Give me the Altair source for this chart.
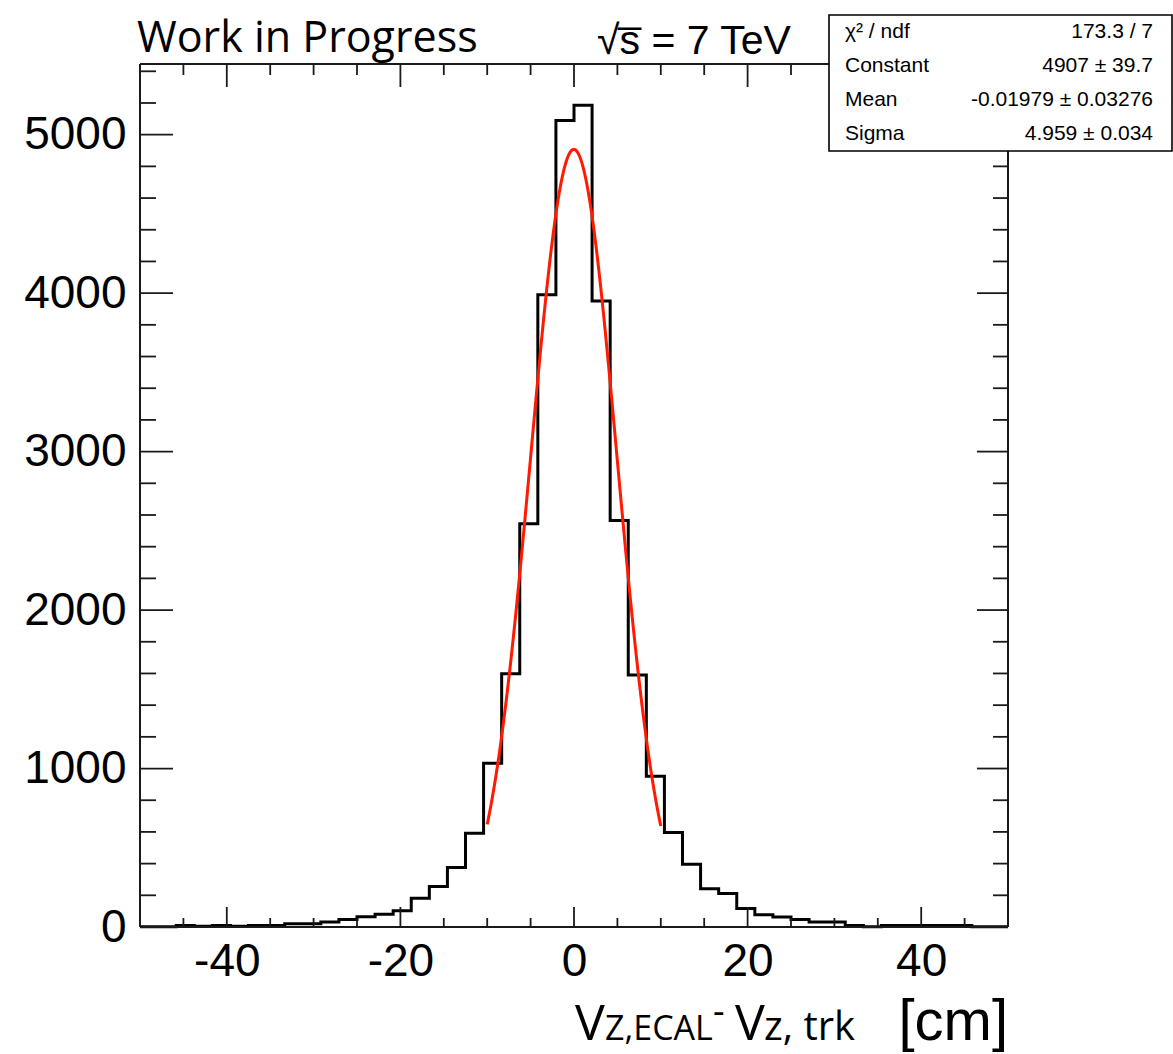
import altair as alt
import pandas as pd

# ---------------- data ----------------
X_MIN, X_MAX = -50.0, 50.0
Y_MAX = 5446
COUNTS = [2, 2, 10, 5, 10, 5, 10, 10, 20, 20, 32, 47, 65, 80, 103, 181, 255, 375,
          592, 1034, 1598, 2544, 3990, 5090, 5185, 3950, 2565, 1590, 952, 596, 396,
          242, 211, 116, 78, 63, 47, 32, 32, 9, 2, 9, 9, 9, 9, 9, 2, 2]
FIT_CONST, FIT_MEAN, FIT_SIGMA = 4907.0, -0.01979, 4.959
FIT_RANGE = [-10.0, 10.0]

X_LABELS = [-40, -20, 0, 20, 40]
X_MINOR = [-45, -35, -30, -25, -15, -10, -5, 5, 10, 15, 25, 30, 35, 45]
Y_LABELS = [0, 1000, 2000, 3000, 4000, 5000]
Y_MINOR = [200, 400, 600, 800, 1200, 1400, 1600, 1800, 2200, 2400, 2600, 2800,
           3200, 3400, 3600, 3800, 4200, 4400, 4600, 4800, 5200, 5400]

STATS_NAMES = ["χ² / ndf", "Constant", "Mean", "Sigma"]
STATS_VALUES = ["173.3 / 7", "4907 ± 39.7", "-0.01979 ± 0.03276", "4.959 ± 0.034"]

TITLE_LEFT = "Work in Progress"
TITLE_RIGHT = "√s\u0305 = 7 TeV"

# ---------------- layout ----------------
W, H = 868, 863
SANS = "Liberation Sans"
OPEN = "Open Sans"

xs = alt.Scale(domain=[X_MIN, X_MAX], nice=False, zero=False)
ys = alt.Scale(domain=[0, Y_MAX], nice=False, zero=True)

LABEL_EXPR = "datum.value < 0 ? '-' + abs(datum.value) : '' + datum.value"
X_AXIS = alt.Axis(values=X_LABELS, ticks=False, domain=False, grid=False, title=None,
                  labelFontSize=46, labelFont=SANS, labelColor="black",
                  labelPadding=12, labelFlush=False, labelExpr=LABEL_EXPR)
Y_AXIS = alt.Axis(values=Y_LABELS, ticks=False, domain=False, grid=False, title=None,
                  labelFontSize=46, labelFont=SANS, labelColor="black",
                  labelPadding=14, labelExpr=LABEL_EXPR)

n = len(COUNTS)
bw = (X_MAX - X_MIN) / n
hist_df = pd.DataFrame({
    "x": [X_MIN + i * bw for i in range(n + 1)],
    "y": COUNTS + [COUNTS[-1]],
})

hist = alt.Chart(hist_df).mark_line(
    interpolate="step-after", color="black", strokeWidth=3
).encode(
    x=alt.X("x:Q", scale=xs, axis=X_AXIS),
    y=alt.Y("y:Q", scale=ys, axis=Y_AXIS),
)

fit = alt.Chart(alt.sequence(FIT_RANGE[0], FIT_RANGE[1] + 0.001, 0.05, as_="x")).transform_calculate(
    y=f"{FIT_CONST}*exp(-0.5*pow((datum.x-({FIT_MEAN}))/{FIT_SIGMA},2))"
).mark_line(color="#ff1a00", strokeWidth=3).encode(
    x=alt.X("x:Q", scale=xs, axis=X_AXIS),
    y=alt.Y("y:Q", scale=ys, axis=Y_AXIS),
)

FRAME_C = "#1a1a1a"


def frame_rule(**enc):
    return alt.Chart(pd.DataFrame({"a": [0]})).mark_rule(color=FRAME_C, strokeWidth=2).encode(**enc)


frame = [
    frame_rule(x=alt.value(0), y=alt.value(0), y2=alt.value(H)),
    frame_rule(x=alt.value(W), y=alt.value(0), y2=alt.value(H)),
    frame_rule(y=alt.value(0), x=alt.value(0), x2=alt.value(W)),
    frame_rule(y=alt.value(H), x=alt.value(0), x2=alt.value(W)),
]

ylab_df = pd.DataFrame({"y": Y_LABELS})
ymin_df = pd.DataFrame({"y": Y_MINOR})
xlab_df = pd.DataFrame({"x": X_LABELS})
xmin_df = pd.DataFrame({"x": X_MINOR})


def yticks(df, x0, x1):
    return alt.Chart(df).mark_rule(color=FRAME_C, strokeWidth=1.8).encode(
        y=alt.Y("y:Q", scale=ys, axis=Y_AXIS), x=alt.value(x0), x2=alt.value(x1))


def xticks(df, y0, y1):
    return alt.Chart(df).mark_rule(color=FRAME_C, strokeWidth=1.8).encode(
        x=alt.X("x:Q", scale=xs, axis=X_AXIS), y=alt.value(y0), y2=alt.value(y1))


ticks = [
    yticks(ylab_df, 0, 33), yticks(ymin_df, 0, 16),
    yticks(ylab_df, W - 31, W), yticks(ymin_df, W - 15, W),
    xticks(xlab_df, H, H - 20), xticks(xmin_df, H, H - 9),
    xticks(xlab_df, 0, 23), xticks(xmin_df, 0, 11),
]

# stats box
box = alt.Chart(pd.DataFrame({"a": [0]})).mark_rect(
    fill="white", stroke="black", strokeWidth=1.6
).encode(x=alt.value(689), x2=alt.value(1032), y=alt.value(-49), y2=alt.value(87))

stats = []
for i, (nm, val) in enumerate(zip(STATS_NAMES, STATS_VALUES)):
    yy = -32 + 34 * i
    stats.append(alt.Chart(pd.DataFrame({"t": [nm]})).mark_text(
        align="left", baseline="middle", font=SANS, fontSize=21, color="black"
    ).encode(text="t:N", x=alt.value(705), y=alt.value(yy)))
    stats.append(alt.Chart(pd.DataFrame({"t": [val]})).mark_text(
        align="right", baseline="middle", font=SANS, fontSize=21, color="black"
    ).encode(text="t:N", x=alt.value(1013), y=alt.value(yy)))


def label(txt, x, y, size, font, align="left"):
    return alt.Chart(pd.DataFrame({"t": [txt]})).mark_text(
        align=align, baseline="alphabetic", font=font, fontSize=size, color="black"
    ).encode(text="t:N", x=alt.value(x), y=alt.value(y))


texts = [
    label(TITLE_LEFT, -3, -12, 43, OPEN),
    label(TITLE_RIGHT, 457, -10, 41, SANS),
    # x-axis title: V_{Z,ECAL} - V_{z, trk}  [cm]
    label("V", 435, 976, 50, OPEN),
    label("Z,ECAL", 465, 976, 34, OPEN),
    label("-", 573, 960, 36, OPEN),
    label("V", 595, 976, 50, OPEN),
    label("z, trk", 624, 976, 40, OPEN),
    label("[cm]", 868, 976, 58, SANS, align="right"),
]

chart = alt.layer(
    hist, *frame, *ticks, fit, box, *stats, *texts
).properties(
    width=W, height=H,
    padding={"left": 140, "top": 64, "right": 1173 - 140 - W, "bottom": 1054 - 64 - H},
    autosize=alt.AutoSizeParams(type="none"),
    background="white",
).configure_view(stroke=None)

chart.save("out.html", embed_options={"renderer": "svg", "actions": False})
